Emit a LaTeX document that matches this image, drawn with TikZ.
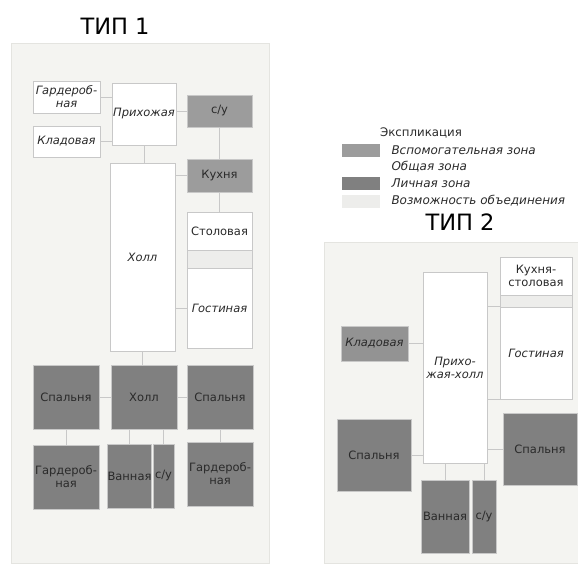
\documentclass[tikz,border=0pt]{standalone}
\usepackage{fontspec}
\setmainfont{DejaVu Sans}
\usetikzlibrary{positioning}

\definecolor{panelbg}{HTML}{F4F4F1}
\definecolor{panelline}{HTML}{E4E4E0}
\definecolor{auxgray}{HTML}{9C9C9C}
\definecolor{privgray}{HTML}{808080}
\definecolor{mergegray}{HTML}{EDEDEB}
\definecolor{boxline}{HTML}{C8C8C8}
\definecolor{ink}{HTML}{2A2A2A}

\begin{document}
\begin{tikzpicture}[x=1pt,y=-1pt,
    room/.style={draw=boxline,line width=0.6pt,inner sep=0pt,align=center,text=ink,font=\fontsize{11.5}{13}\selectfont},
    sz/.style 2 args={minimum width=#1pt,minimum height=#2pt},
    aux/.style={room,fill=auxgray},
    common/.style={room,fill=white,font=\fontsize{11.5}{13}\selectfont\itshape},
    private/.style={room,fill=privgray},
    merge/.style={room,fill=mergegray},
    link/.style={draw=boxline,line width=0.6pt},
    title/.style={font=\fontsize{22.5}{26}\selectfont}]
\useasboundingbox (0,0) rectangle (578,564);

% backgrounds of both types
\fill[panelbg,draw=panelline] (11,43) rectangle (269,563);
\fill[panelbg,draw=panelline] (324,242) rectangle (579,563);

\node[title] (tip1) at (115,26) {ТИП 1};
\node[title] (tip2) at (460,222) {ТИП 2};

% legend
\node[text=ink,font=\fontsize{11.8}{13}\selectfont] (expl) at (421,133) {Экспликация};
\foreach \i/\y/\st/\txt in {1/150/aux/{Вспомогательная зона}, 2/166.5/common/{Общая зона},
    3/183.5/private/{Личная зона}, 4/201/merge/{Возможность объединения}} {
    \node[\st,sz={39}{14},draw=white] (sw\i) at (360.5,\y) {};
    \node[right=11pt of sw\i,inner sep=0pt,text=ink,font=\fontsize{12}{13}\selectfont\itshape] (lab\i) {\txt};
}

% type 1
\node[common,sz={67}{32}] (gard1) at (66.5,97) {Гардероб-\\ная};
\node[common,sz={67}{31}] (klad1) at (66.5,141.5) {Кладовая};
\node[common,sz={64}{62}] (prih) at (144,114) {Прихожая};
\node[aux,sz={65}{32}] (su1) at (219.5,111) {с/у};
\node[aux,sz={65}{33}] (kuh) at (219.5,175.5) {Кухня};
\node[common,sz={65}{188}] (holl) at (142.5,257) {Холл};
\node[room,fill=white,sz={65}{38}] (stol) at (219.5,231) {Столовая};
\node[merge,sz={65}{18}] (obed1) at (219.5,259) {};
\node[common,sz={65}{80}] (gost1) at (219.5,308) {Гостиная};
\node[private,sz={66}{64}] (sp1) at (66,397) {Спальня};
\node[private,sz={66}{64}] (holl2) at (144,397) {Холл};
\node[private,sz={66}{64}] (sp2) at (220,397) {Спальня};
\node[private,sz={66}{64}] (gard2) at (66,477) {Гардероб-\\ная};
\node[private,sz={43}{64}] (van1) at (129.5,476) {Ванная};
\node[private,sz={21}{64}] (su2) at (163.5,476) {с/у};
\node[private,sz={66}{64}] (gard3) at (220,474) {Гардероб-\\ная};

\draw[link] (gard1.east) -- (gard1.east -| prih.west);
\draw[link] (klad1.east) -- (klad1.east -| prih.west);
\draw[link] (su1.west) -- (su1.west -| prih.east);
\draw[link] (prih.south) -- (prih.south |- holl.north);
\draw[link] (su1.south) -- (kuh.north);
\draw[link] (kuh.west) -- (kuh.west -| holl.east);
\draw[link] (kuh.south) -- (stol.north);
\draw[link] (gost1.west) -- (gost1.west -| holl.east);
\draw[link] (holl.south) -- (holl.south |- holl2.north);
\draw[link] (sp1.east) -- (holl2.west);
\draw[link] (holl2.east) -- (sp2.west);
\draw[link] (sp1.south) -- (gard2.north);
\draw[link] (van1.north) -- (van1.north |- holl2.south);
\draw[link] (su2.north) -- (su2.north |- holl2.south);
\draw[link] (sp2.south) -- (gard3.north);

% type 2
\node[room,fill=white,sz={72}{38}] (kuhst) at (536,276) {Кухня-\\столовая};
\node[merge,sz={72}{12}] (obed2) at (536,301) {};
\node[common,sz={72}{92}] (gost2) at (536,353) {Гостиная};
\node[common,sz={64}{191}] (prhl) at (455,367.5) {Прихо-\\жая-холл};
\node[aux,fill=privgray!85!white,font=\fontsize{11.5}{13}\selectfont\itshape,sz={67}{35}] (klad2) at (374.5,343.5) {Кладовая};
\node[private,sz={74}{72}] (sp3) at (374,455) {Спальня};
\node[private,sz={74}{72}] (sp4) at (540,449) {Спальня};
\node[private,sz={48}{73}] (van2) at (445,516.5) {Ванная};
\node[private,sz={24}{73}] (su3) at (484,516.5) {с/у};

\draw[link] (klad2.east) -- (klad2.east -| prhl.west);
\draw[link] (prhl.east |- gost2.north west) -- (gost2.north west);
\draw[link] (prhl.east |- gost2.south west) -- (gost2.south west);
\draw[link] (sp3.east) -- (sp3.east -| prhl.west);
\draw[link] (sp4.west) -- (sp4.west -| prhl.east);
\draw[link] (van2.north) -- (van2.north |- prhl.south);
\draw[link] (su3.north) -- (su3.north |- prhl.south);
\end{tikzpicture}
\end{document}
